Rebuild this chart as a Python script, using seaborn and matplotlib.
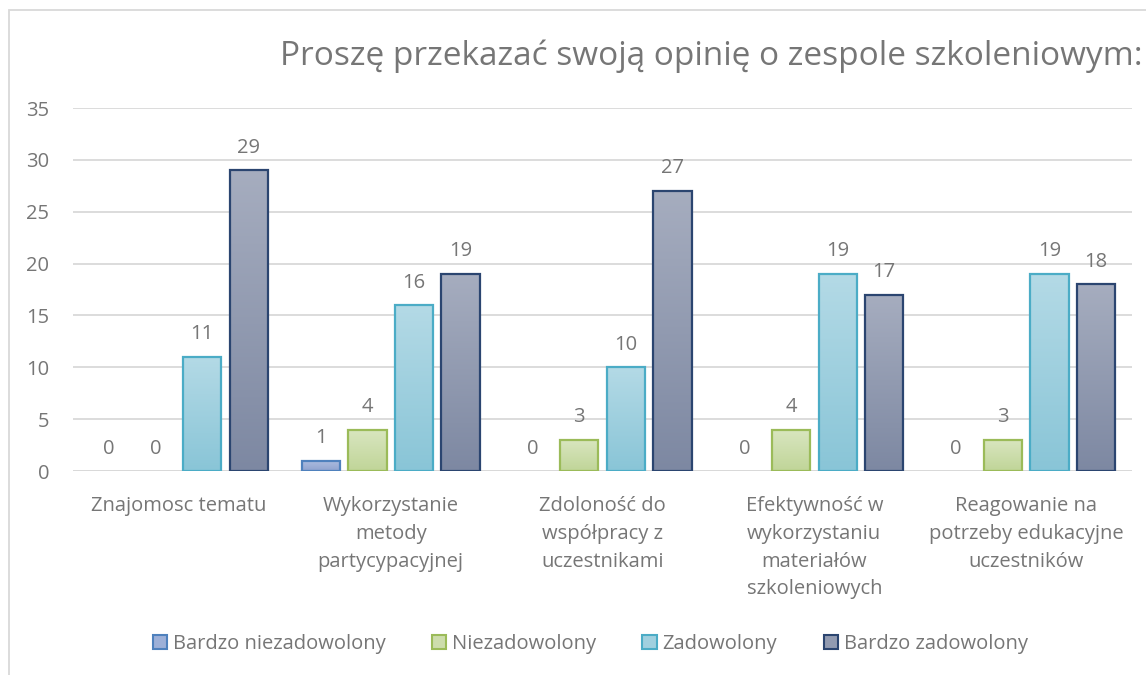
import numpy as np
import pandas as pd
import matplotlib
matplotlib.use("Agg")
import matplotlib.pyplot as plt
import seaborn as sns
from matplotlib.patches import Patch, Rectangle
from matplotlib.colors import LinearSegmentedColormap

categories = [
    "Znajomosc tematu",
    "Wykorzystanie\nmetody\npartycypacyjnej",
    "Zdoloność do\nwspółpracy z\nuczestnikami",
    "Efektywność w\nwykorzystaniu\nmateriałów\nszkoleniowych",
    "Reagowanie na\npotrzeby edukacyjne\nuczestników",
]
series_names = ["Bardzo niezadowolony", "Niezadowolony", "Zadowolony", "Bardzo zadowolony"]
bardzo_niezadowolony = [0, 1, 0, 0, 0]
niezadowolony = [0, 4, 3, 4, 3]
zadowolony = [11, 16, 10, 19, 19]
bardzo_zadowolony = [29, 19, 27, 17, 18]
y_ticks = [0, 5, 10, 15, 20, 25, 30, 35]
title = "Proszę przekazać swoją opinię o zespole szkoleniowym:"

series_values = [bardzo_niezadowolony, niezadowolony, zadowolony, bardzo_zadowolony]
rows = []
for name, vals in zip(series_names, series_values):
    for c, v in zip(categories, vals):
        rows.append({"kategoria": c, "seria": name, "liczba": v})
df = pd.DataFrame(rows)

top_colors = ["#aebde0", "#d9e6c0", "#b4dae6", "#a6adbf"]
bot_colors = ["#8ea3cf", "#c0d598", "#89c5d7", "#7d88a2"]
mid_colors = ["#9db0d8", "#cdddac", "#a0d0df", "#929bb1"]
edge_colors = ["#4f81bd", "#9bbb59", "#4bacc6", "#2b4570"]

sns.set_theme(style="white")
plt.rcParams['font.family'] = ['Open Sans', 'DejaVu Sans']
text_color = "#767676"

fig = plt.figure(figsize=(11.46, 6.75), dpi=100)
ax = fig.add_axes([0.0637, 0.3022, 0.9241, 0.5378])

sns.barplot(data=df, x="kategoria", y="liczba", hue="seria", order=categories,
            hue_order=series_names, palette=mid_colors, width=0.88, gap=0.18,
            ax=ax, legend=False, saturation=1)

ax.set_ylim(0, 35)
xlim = (-0.5, len(categories) - 0.5)
ax.set_xlim(*xlim)

for i, cont in enumerate(ax.containers):
    cmap = LinearSegmentedColormap.from_list(f"g{i}", [bot_colors[i], top_colors[i]])
    for bar in cont:
        bar.set_edgecolor(edge_colors[i])
        bar.set_linewidth(1.6)
        bar.set_zorder(2)
        h = bar.get_height()
        if h > 0:
            x0 = bar.get_x()
            w = bar.get_width()
            grad = np.linspace(0, 1, 256).reshape(-1, 1)
            im = ax.imshow(grad, extent=[x0, x0 + w, 0, h], origin="lower",
                           cmap=cmap, aspect="auto", zorder=1.5)
            im.set_clip_path(bar)
            bar.set_facecolor("none")
        else:
            bar.set_linewidth(0)
            bar.set_facecolor("none")
    ax.bar_label(cont, labels=[f"{v:g}" for v in cont.datavalues], padding=9,
                 fontsize=14.5, color=text_color)

ax.set_xlim(*xlim)
ax.set_ylim(0, 35)
ax.set_yticks(y_ticks)
ax.yaxis.grid(True, color="#d9d9d9", linewidth=1.3)
ax.set_axisbelow(True)
for s in ax.spines.values():
    s.set_visible(False)
ax.axhline(0, color="#d9d9d9", linewidth=1.3, zorder=0.5)
ax.set_xlabel("")
ax.set_ylabel("")
ax.tick_params(axis="y", labelsize=14.5, labelcolor=text_color, length=0, pad=17)
ax.tick_params(axis="x", labelsize=14.5, labelcolor=text_color, length=0, pad=18)
for lab in ax.get_xticklabels():
    lab.set_linespacing(1.52)
    lab.set_verticalalignment("top")

fig.text(0.997, 0.916, title, ha="right", va="center", fontsize=24, color=text_color)

handles = [Patch(facecolor=mid_colors[i], edgecolor=edge_colors[i], linewidth=1.5)
           for i in range(4)]
fig.legend(handles, series_names, loc="center", bbox_to_anchor=(0.515, 0.046),
           ncol=4, frameon=False, fontsize=14.5, labelcolor=text_color,
           handlelength=0.7, handleheight=0.7, handletextpad=0.3, columnspacing=2.3)

border = Rectangle((9 / 1146, -0.01), 1.2, (675 - 10) / 675 + 0.01, transform=fig.transFigure,
                   fill=False, edgecolor="#d9d9d9", linewidth=1.3)
fig.patches.append(border)

fig.savefig("out.png", dpi=100)
